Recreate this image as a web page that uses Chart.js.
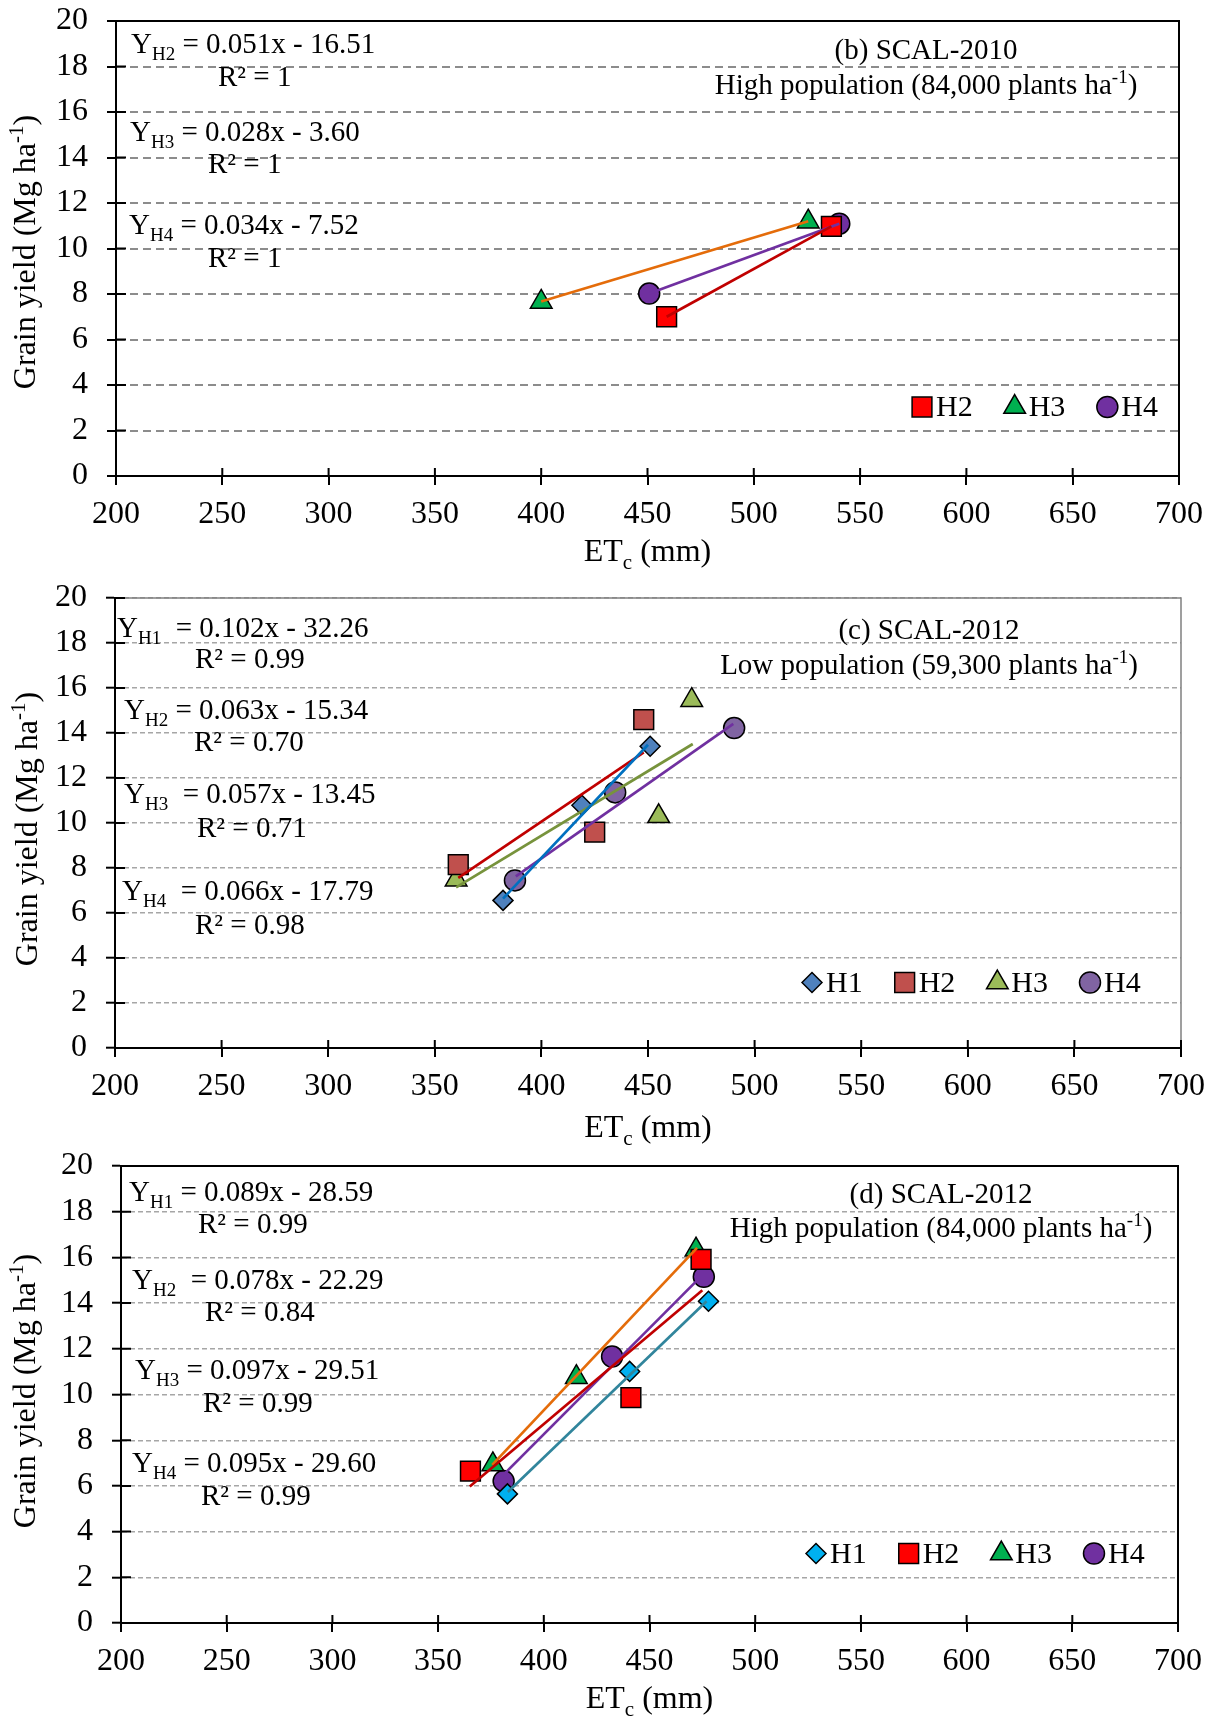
<!DOCTYPE html>
<html><head><meta charset="utf-8"><title>Grain yield vs ETc</title>
<script src="https://cdn.jsdelivr.net/npm/chart.js@4.4.1/dist/chart.umd.min.js"></script>
<style>
html,body{margin:0;padding:0;background:#fff;}
.wrap{position:relative;width:1211px;height:1720px;overflow:hidden;background:#fff;}
canvas{position:absolute;left:0;display:block;}
</style></head><body>
<div class="wrap">
<canvas id="cb" width="1211" height="575" style="top:0px"></canvas>
<canvas id="cc" width="1211" height="570" style="top:575px"></canvas>
<canvas id="cd" width="1211" height="575" style="top:1145px"></canvas>
</div>
<script>
// ---------- shared axis ticks ----------
const xTicks = [200, 250, 300, 350, 400, 450, 500, 550, 600, 650, 700];
const yTicks = [0, 2, 4, 6, 8, 10, 12, 14, 16, 18, 20];
const xTitle = ['ET', 'c', ' (mm)'];
const yTitle = ['Grain yield (Mg ha', '-1', ')'];

// ---------- (b) SCAL-2010, high population ----------
const b_note = ['(b) SCAL-2010', 'High population (84,000 plants ha', '-1', ')'];
const b_hybrids = ['H2', 'H3', 'H4'];
const b_ET_H2 = [459, 536.5];
const b_GY_H2 = [7.00, 10.97];
const b_ET_H3 = [400, 525.6];
const b_GY_H3 = [7.65, 11.18];
const b_ET_H4 = [450.8, 540.2];
const b_GY_H4 = [8.02, 11.09];
const b_FIT_ET_H2 = [459, 536.5];
const b_FIT_GY_H2 = [7.00, 10.97];
const b_FIT_ET_H3 = [400, 525.6];
const b_FIT_GY_H3 = [7.67, 11.20];
const b_FIT_ET_H4 = [450.8, 540.2];
const b_FIT_GY_H4 = [8.02, 11.09];
const b_eqRhs = [' = 0.051x - 16.51', ' = 0.028x - 3.60', ' = 0.034x - 7.52'];
const b_eqR2 = ['R\u00B2 = 1', 'R\u00B2 = 1', 'R\u00B2 = 1'];

// ---------- (c) SCAL-2012, low population ----------
const c_note = ['(c) SCAL-2012', 'Low population (59,300 plants ha', '-1', ')'];
const c_hybrids = ['H1', 'H2', 'H3', 'H4'];
const c_ET_H1 = [382, 419, 451];
const c_GY_H1 = [6.56, 10.79, 13.41];
const c_ET_H2 = [361, 425, 448];
const c_GY_H2 = [8.15, 9.59, 14.59];
const c_ET_H3 = [360, 455, 470.5];
const c_GY_H3 = [7.48, 10.30, 15.46];
const c_ET_H4 = [387.6, 434.6, 490.4];
const c_GY_H4 = [7.45, 11.36, 14.22];
const c_FIT_ET_H1 = [382, 450];
const c_FIT_GY_H1 = [6.64, 13.48];
const c_FIT_ET_H2 = [361, 448];
const c_FIT_GY_H2 = [7.56, 13.14];
const c_FIT_ET_H3 = [360, 471];
const c_FIT_GY_H3 = [7.14, 13.51];
const c_FIT_ET_H4 = [388, 490];
const c_FIT_GY_H4 = [7.63, 14.41];
const c_eqRhs = ['  = 0.102x - 32.26', ' = 0.063x - 15.34', '  = 0.057x - 13.45', '  = 0.066x - 17.79'];
const c_eqR2 = ['R\u00B2 = 0.99', 'R\u00B2 = 0.70', 'R\u00B2 = 0.71', 'R\u00B2 = 0.98'];

// ---------- (d) SCAL-2012, high population ----------
const d_note = ['(d) SCAL-2012', 'High population (84,000 plants ha', '-1', ')'];
const d_hybrids = ['H1', 'H2', 'H3', 'H4'];
const d_ET_H1 = [382.8, 440.6, 477.9];
const d_GY_H1 = [5.65, 11.01, 14.08];
const d_ET_H2 = [365.3, 441.2, 474.4];
const d_GY_H2 = [6.65, 9.86, 15.91];
const d_ET_H3 = [375.9, 415.4, 472];
const d_GY_H3 = [6.94, 10.76, 16.34];
const d_ET_H4 = [381, 432.3, 475.7];
const d_GY_H4 = [6.21, 11.66, 15.15];
const d_FIT_ET_H1 = [383, 477];
const d_FIT_GY_H1 = [5.73, 14.08];
const d_FIT_ET_H2 = [365, 475];
const d_FIT_GY_H2 = [5.97, 14.56];
const d_FIT_ET_H3 = [375.6, 472.5];
const d_FIT_GY_H3 = [6.92, 16.42];
const d_FIT_ET_H4 = [380.5, 473];
const d_FIT_GY_H4 = [6.45, 15.04];
const d_eqRhs = [' = 0.089x - 28.59', '  = 0.078x - 22.29', ' = 0.097x - 29.51', ' = 0.095x - 29.60'];
const d_eqR2 = ['R\u00B2 = 0.99', 'R\u00B2 = 0.84', 'R\u00B2 = 0.99', 'R\u00B2 = 0.99'];

// ---------- styling ----------
const FONT = "'Liberation Serif', 'Times New Roman', serif";
Chart.defaults.font.family = FONT;
Chart.defaults.color = '#000';

const pts = (xs, ys) => xs.map((x, i) => ({x: x, y: ys[i]}));

function pointSet(label, xs, ys, style, fill, r) {
  return {label: label, data: pts(xs, ys), showLine: false, pointStyle: style,
    pointRadius: r, pointHoverRadius: r, backgroundColor: fill, borderColor: '#000',
    borderWidth: 1.5, pointBorderWidth: 1.5, order: 2, isMarker: true};
}
function fitSet(label, xs, ys, color) {
  return {label: label + ' trend', data: pts(xs, ys), showLine: true, borderColor: color,
    borderWidth: 2.7, pointRadius: 0, pointHoverRadius: 0, fill: false, order: 1};
}

const configs = {
  cb: {
    H: 575, area: {l: 116, r: 1179, t: 21, b: 476},
    grid: {color: '#8c8c8c', width: 2, dash: [8, 5]},
    frame: {color: '#000', width: 2},
    datasets: [
      fitSet('H2', b_FIT_ET_H2, b_FIT_GY_H2, '#C00000'),
      fitSet('H3', b_FIT_ET_H3, b_FIT_GY_H3, '#E46C0A'),
      fitSet('H4', b_FIT_ET_H4, b_FIT_GY_H4, '#7030A0'),
      pointSet(b_hybrids[0], b_ET_H2, b_GY_H2, 'rect', '#FF0000', 14),
      pointSet(b_hybrids[1], b_ET_H3, b_GY_H3, 'triangle', '#00B050', 12.5),
      pointSet(b_hybrids[2], b_ET_H4, b_GY_H4, 'circle', '#7030A0', 10.5)
    ],
    eqs: [
      {sub: b_hybrids[0], rhs: b_eqRhs[0], r2: b_eqR2[0], x: 131, y: 53, rx: 218, ry: 86},
      {sub: b_hybrids[1], rhs: b_eqRhs[1], r2: b_eqR2[1], x: 130, y: 141, rx: 208, ry: 173},
      {sub: b_hybrids[2], rhs: b_eqRhs[2], r2: b_eqR2[2], x: 129, y: 234, rx: 208, ry: 267}
    ],
    note: {text: b_note, cx: 926, y1: 59, y2: 93.5},
    legend: {start: -257, y: 407, base: 416},
    yTitle: {x: 35, cy: 252},
    xTitleBase: 561
  },
  cc: {
    H: 570, area: {l: 115, r: 1181, t: 23, b: 473},
    grid: {color: '#a6a6a6', width: 1.4, dash: [5, 3]},
    frame: {color: '#808080', width: 1.5},
    datasets: [
      fitSet('H1', c_FIT_ET_H1, c_FIT_GY_H1, '#0070C0'),
      fitSet('H2', c_FIT_ET_H2, c_FIT_GY_H2, '#C00000'),
      fitSet('H3', c_FIT_ET_H3, c_FIT_GY_H3, '#77933C'),
      fitSet('H4', c_FIT_ET_H4, c_FIT_GY_H4, '#7030A0'),
      pointSet(c_hybrids[0], c_ET_H1, c_GY_H1, 'rectRot', '#4F81BD', 10),
      pointSet(c_hybrids[1], c_ET_H2, c_GY_H2, 'rect', '#C0504D', 14),
      pointSet(c_hybrids[2], c_ET_H3, c_GY_H3, 'triangle', '#9BBB59', 12.5),
      pointSet(c_hybrids[3], c_ET_H4, c_GY_H4, 'circle', '#8064A2', 10.5)
    ],
    eqs: [
      {sub: c_hybrids[0], rhs: c_eqRhs[0], r2: c_eqR2[0], x: 117, y: 62, rx: 195, ry: 92.5},
      {sub: c_hybrids[1], rhs: c_eqRhs[1], r2: c_eqR2[1], x: 124, y: 144, rx: 194, ry: 176},
      {sub: c_hybrids[2], rhs: c_eqRhs[2], r2: c_eqR2[2], x: 124, y: 228, rx: 197, ry: 262},
      {sub: c_hybrids[3], rhs: c_eqRhs[3], r2: c_eqR2[3], x: 122, y: 324.5, rx: 195, ry: 358.5}
    ],
    note: {text: c_note, cx: 929, y1: 64, y2: 98.5},
    legend: {start: -369, y: 407.5, base: 417},
    yTitle: {x: 36.5, cy: 254},
    xTitleBase: 562
  },
  cd: {
    H: 575, area: {l: 121, r: 1178, t: 21, b: 478},
    grid: {color: '#a6a6a6', width: 1.4, dash: [5, 3]},
    frame: {color: '#000', width: 2},
    datasets: [
      fitSet('H1', d_FIT_ET_H1, d_FIT_GY_H1, '#31859C'),
      fitSet('H2', d_FIT_ET_H2, d_FIT_GY_H2, '#C00000'),
      fitSet('H3', d_FIT_ET_H3, d_FIT_GY_H3, '#E46C0A'),
      fitSet('H4', d_FIT_ET_H4, d_FIT_GY_H4, '#7030A0'),
      pointSet(d_hybrids[0], d_ET_H1, d_GY_H1, 'rectRot', '#00B0F0', 10),
      pointSet(d_hybrids[1], d_ET_H2, d_GY_H2, 'rect', '#FF0000', 14),
      pointSet(d_hybrids[2], d_ET_H3, d_GY_H3, 'triangle', '#00B050', 12.5),
      pointSet(d_hybrids[3], d_ET_H4, d_GY_H4, 'circle', '#7030A0', 10.5)
    ],
    eqs: [
      {sub: d_hybrids[0], rhs: d_eqRhs[0], r2: d_eqR2[0], x: 129, y: 56, rx: 198, ry: 88},
      {sub: d_hybrids[1], rhs: d_eqRhs[1], r2: d_eqR2[1], x: 132, y: 144, rx: 205, ry: 176},
      {sub: d_hybrids[2], rhs: d_eqRhs[2], r2: d_eqR2[2], x: 135, y: 234, rx: 203, ry: 267},
      {sub: d_hybrids[3], rhs: d_eqRhs[3], r2: d_eqR2[3], x: 132, y: 327, rx: 201, ry: 359.5}
    ],
    note: {text: d_note, cx: 941, y1: 58, y2: 91.5},
    legend: {start: -362, y: 408.5, base: 417.5},
    yTitle: {x: 35, cy: 246},
    xTitleBase: 563
  }
};

// ---------- helpers ----------
function runs(ctx, parts) {
  let w = 0;
  parts.forEach(p => { ctx.font = p.s + 'px ' + FONT; p.w = ctx.measureText(p.t).width; w += p.w; });
  return w;
}
function drawRuns(ctx, parts, x, y, align) {
  const w = runs(ctx, parts);
  let cx = align === 'center' ? x - w / 2 : x;
  parts.forEach(p => {
    ctx.font = p.s + 'px ' + FONT;
    ctx.fillText(p.t, cx, y + (p.dy || 0));
    cx += p.w;
  });
  return w;
}
function marker(ctx, style, x, y, r, fill) {
  ctx.save();
  ctx.beginPath();
  ctx.fillStyle = fill; ctx.strokeStyle = '#000'; ctx.lineWidth = 1.5;
  if (style === 'circle') {
    ctx.arc(x, y, r, 0, Math.PI * 2);
  } else if (style === 'rect') {
    const s = r * Math.SQRT1_2; ctx.rect(x - s, y - s, 2 * s, 2 * s);
  } else if (style === 'rectRot') {
    ctx.moveTo(x - r, y); ctx.lineTo(x, y - r); ctx.lineTo(x + r, y); ctx.lineTo(x, y + r); ctx.closePath();
  } else if (style === 'triangle') {
    ctx.moveTo(x, y - r);
    ctx.lineTo(x + r * Math.sin(2 * Math.PI / 3), y - r * Math.cos(2 * Math.PI / 3));
    ctx.lineTo(x + r * Math.sin(4 * Math.PI / 3), y - r * Math.cos(4 * Math.PI / 3));
    ctx.closePath();
  }
  ctx.fill(); ctx.stroke();
  ctx.restore();
}

const decor = {
  id: 'decor',
  afterDraw(chart) {
    const c = configs[chart.canvas.id];
    const ctx = chart.ctx, a = chart.chartArea;
    const xs = chart.scales.x, ys = chart.scales.y;
    ctx.save();
    // frame (top/right)
    ctx.strokeStyle = c.frame.color; ctx.lineWidth = c.frame.width;
    ctx.beginPath(); ctx.moveTo(a.left, a.top); ctx.lineTo(a.right, a.top); ctx.lineTo(a.right, a.bottom); ctx.stroke();
    // inner half of the crossing tick marks
    ctx.strokeStyle = '#000'; ctx.lineWidth = 2;
    ctx.beginPath();
    ys.ticks.forEach(t => { const p = ys.getPixelForValue(t.value); ctx.moveTo(a.left, p); ctx.lineTo(a.left + 10, p); });
    xs.ticks.forEach(t => { const p = xs.getPixelForValue(t.value); ctx.moveTo(p, a.bottom); ctx.lineTo(p, a.bottom - 8); });
    ctx.stroke();
    // texts
    ctx.fillStyle = '#000'; ctx.textBaseline = 'alphabetic'; ctx.textAlign = 'left';
    c.eqs.forEach(e => {
      drawRuns(ctx, [{t: 'Y', s: 29}, {t: e.sub, s: 19, dy: 7}, {t: e.rhs, s: 29}], e.x, e.y, 'left');
      drawRuns(ctx, [{t: e.r2, s: 29}], e.rx, e.ry, 'left');
    });
    drawRuns(ctx, [{t: c.note.text[0], s: 29}], c.note.cx, c.note.y1, 'center');
    drawRuns(ctx, [{t: c.note.text[1], s: 29}, {t: c.note.text[2], s: 19, dy: -11}, {t: c.note.text[3], s: 29}], c.note.cx, c.note.y2, 'center');
    // legend built from the marker datasets
    let lx = a.right + c.legend.start;
    chart.data.datasets.filter(d => d.isMarker).forEach(d => {
      marker(ctx, d.pointStyle, lx, c.legend.y, d.pointRadius, d.backgroundColor);
      ctx.fillStyle = '#000';
      const w = drawRuns(ctx, [{t: d.label, s: 30}], lx + 14, c.legend.base, 'left');
      lx += 14 + w + 42;
    });
    // x axis title
    drawRuns(ctx, [{t: xTitle[0], s: 32}, {t: xTitle[1], s: 21, dy: 8}, {t: xTitle[2], s: 32}], (a.left + a.right) / 2, c.xTitleBase, 'center');
    // y axis title (rotated)
    ctx.save();
    ctx.translate(c.yTitle.x, c.yTitle.cy);
    ctx.rotate(-Math.PI / 2);
    drawRuns(ctx, [{t: yTitle[0], s: 32}, {t: yTitle[1], s: 21, dy: -12}, {t: yTitle[2], s: 32}], 0, 0, 'center');
    ctx.restore();
    ctx.restore();
  }
};

function zeroPad(s) { s.paddingTop = 0; s.paddingBottom = 0; s.paddingLeft = 0; s.paddingRight = 0; }

function build(id) {
  const c = configs[id];
  return new Chart(document.getElementById(id), {
    type: 'scatter',
    data: {datasets: c.datasets},
    plugins: [decor],
    options: {
      responsive: false, animation: false, devicePixelRatio: 1,
      layout: {padding: {left: 0, top: c.area.t, right: 1211 - c.area.r, bottom: 0}},
      plugins: {legend: {display: false}, tooltip: {enabled: false}},
      scales: {
        x: {
          type: 'linear', min: 200, max: 700,
          afterBuildTicks: s => { s.ticks = xTicks.map(v => ({value: v})); },
          afterFit: s => { s.height = c.H - c.area.b; zeroPad(s); },
          ticks: {font: {size: 32}, color: '#000', padding: 10, autoSkip: false, maxRotation: 0},
          grid: {drawOnChartArea: false, drawTicks: true, tickLength: 9, tickColor: '#000', tickWidth: 2, color: '#000', lineWidth: 2},
          border: {display: true, color: '#000', width: 2}
        },
        y: {
          type: 'linear', min: 0, max: 20,
          afterBuildTicks: s => { s.ticks = yTicks.map(v => ({value: v})); },
          afterFit: s => { s.width = c.area.l; zeroPad(s); },
          ticks: {font: {size: 32}, color: '#000', padding: 19, autoSkip: false},
          grid: {drawOnChartArea: true, drawTicks: true, tickLength: 9, tickColor: '#000', tickWidth: 2,
                 color: c.grid.color, lineWidth: c.grid.width},
          border: {display: true, color: '#000', width: 2, dash: c.grid.dash}
        }
      }
    }
  });
}
build('cb'); build('cc'); build('cd');
</script></body></html>
